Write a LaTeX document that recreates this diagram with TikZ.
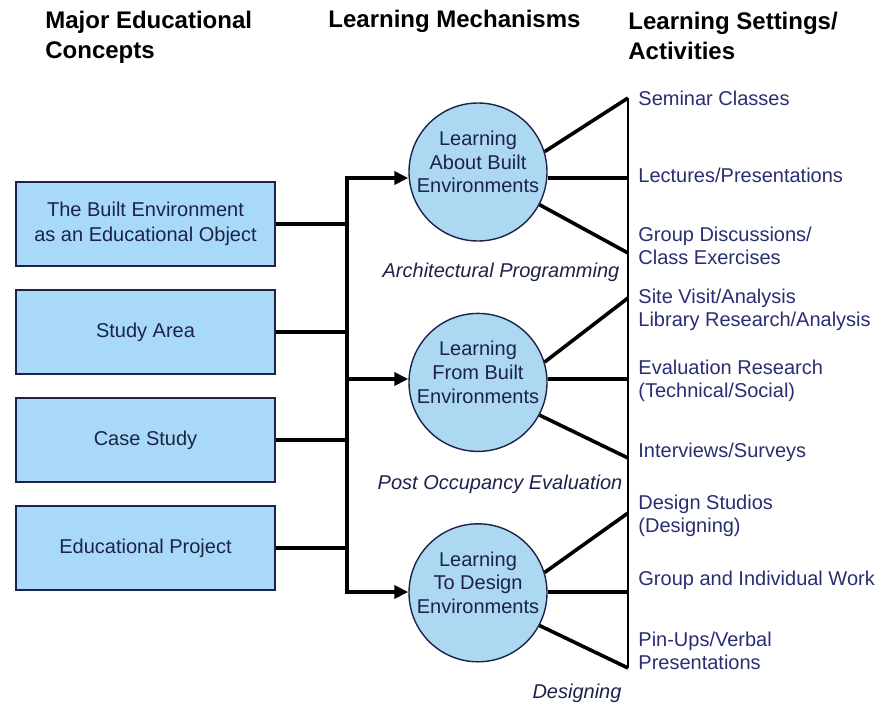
\documentclass[tikz,border=0pt]{standalone}
\usepackage{fontspec}
\setmainfont{Liberation Sans}
\usepackage{xcolor}
\usepackage{tikz}
\usetikzlibrary{calc,positioning,arrows.meta}

\definecolor{boxblue}{RGB}{168,218,248}
\definecolor{circblue}{RGB}{172,216,242}
\definecolor{navy}{RGB}{28,34,74}
\definecolor{labelblue}{RGB}{40,46,112}

\begin{document}
\begin{tikzpicture}[x=0.5pt, y=-0.5pt,
        heading/.style={font=\fontsize{12}{15}\selectfont\bfseries, align=left, inner sep=0pt, anchor=west},
        concept/.style={draw=navy, line width=1pt, fill=boxblue, minimum width=129.5pt, minimum height=42pt, text=navy, align=center, font=\fontsize{10}{12.5}\selectfont},
        mechanism/.style={draw=navy, line width=0.7pt, fill=circblue, circle, minimum size=69pt, inner sep=0pt},
        mechtext/.style={text=navy, align=center, font=\fontsize{10}{11.8}\selectfont},
        setting/.style={anchor=west, inner sep=0pt, text=labelblue, align=left, font=\fontsize{10}{11.2}\selectfont},
        method/.style={text=navy, font=\fontsize{10}{12}\selectfont\itshape},
        feed/.style={line width=2pt, -{Triangle[length=7pt,width=6.5pt]}},
        link/.style={line width=2pt},
        spoke/.style={line width=1.8pt}]
    \useasboundingbox (0,0) rectangle (882,707);

    % column headings
    \node [heading] (hconcepts) at (45,37) {Major Educational\\Concepts};
    \node [heading] (hmech) at (328,21) {Learning Mechanisms};
    \node [heading] (hsettings) at (628,36) {Learning Settings/\\Activities};

    % concepts
    \node [concept] (edobject) at (145.5,224) {The Built Environment\\as an Educational Object};
    \node [concept, below=11pt of edobject] (studyarea) {Study Area};
    \node [concept, below=11pt of studyarea] (casestudy) {Case Study};
    \node [concept, below=11pt of casestudy] (edproject) {Educational Project};

    % mechanisms
    \node [mechanism] (about) at (478,172) {};
    \node [mechanism, below=35.5pt of about] (from) {};
    \node [mechanism, below=35.5pt of from] (todesign) {};
    \node [mechtext] (abouttext) at ([yshift=5pt]about.center) {Learning\\About Built\\Environments};
    \node [mechtext] (fromtext) at ([yshift=5pt]from.center) {Learning\\From Built\\Environments};
    \node [mechtext] (todesigntext) at ([yshift=5pt]todesign.center) {Learning\\To Design\\Environments};

    \node [method] (archprog) at (501,272) {Architectural Programming};
    \node [method] (poe) at (500,484) {Post Occupancy Evaluation};
    \node [method] (designing) at (577,693) {Designing};

    % settings / activities
    \node [setting] (seminar) at (638,98) {Seminar Classes};
    \node [setting] (lectures) at (638,175) {Lectures/Presentations};
    \node [setting] (discuss) at (638,246) {Group Discussions/\\Class Exercises};
    \node [setting] (sitevisit) at (638,310) {Site Visit/Analysis\\Library Research/Analysis};
    \node [setting] (evalres) at (638,381) {Evaluation Research\\(Technical/Social)};
    \node [setting] (interviews) at (638,452) {Interviews/Surveys};
    \node [setting] (studios) at (638,516) {Design Studios\\(Designing)};
    \node [setting] (groupwork) at (638,580) {Group and Individual Work};
    \node [setting] (pinups) at (638,651) {Pin-Ups/Verbal\\Presentations};

    % bus from the concepts
    \coordinate (b1) at (347,178);
    \coordinate (b2) at (347,379);
    \coordinate (b3) at (347,592);
    \foreach \c in {edobject,studyarea,casestudy,edproject}
        \draw[link] (\c.east) -- (\c.east -| b1);
    \draw[feed] (b2) -- (b1) -- (b1 -| about.west);
    \draw[feed] (b2) -- (b2 -| from.west);
    \draw[feed] (b2) -- (b3) -- (b3 -| todesign.west);

    % spokes out to the activities
    \coordinate (e11) at (628,98);
    \coordinate (e12) at (628,178);
    \coordinate (e13) at (628,253);
    \coordinate (e21) at (628,298);
    \coordinate (e22) at (628,379);
    \coordinate (e23) at (628,458);
    \coordinate (e31) at (628,513);
    \coordinate (e32) at (628,592);
    \coordinate (e33) at (628,668);
    \draw[line width=1.2pt] (e11) -- (e33);
    \foreach \m/\i in {about/1,from/2,todesign/3} {
        \draw[spoke] (\m.17) -- (e\i1);
        \draw[spoke] (e\i2 -| \m.east) -- (e\i2);
        \draw[spoke] (\m.-28) -- (e\i3);
    }
\end{tikzpicture}
\end{document}
